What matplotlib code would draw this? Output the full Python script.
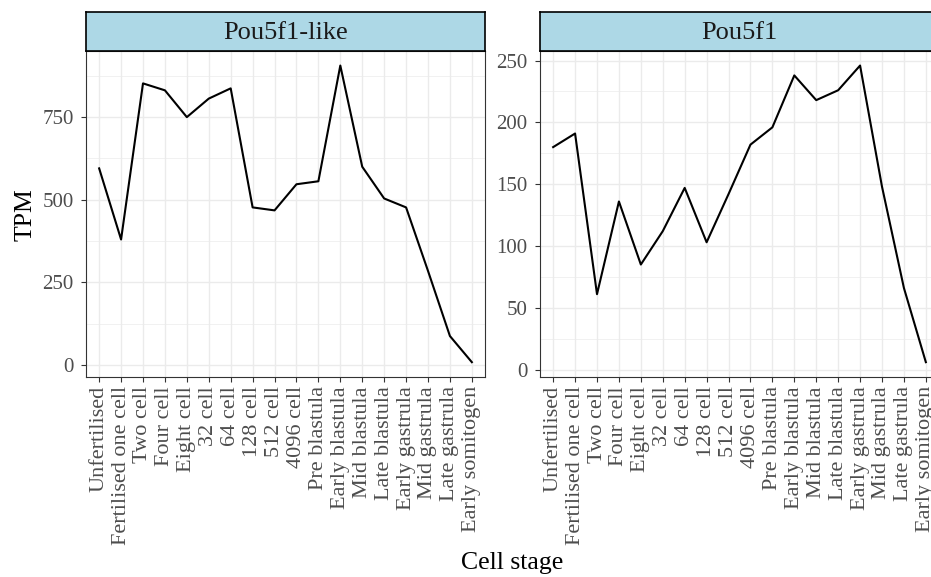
import matplotlib
matplotlib.use("Agg")
import matplotlib.pyplot as plt
from matplotlib.ticker import MultipleLocator

plt.rcParams['font.family'] = ['Liberation Serif', 'DejaVu Serif']

stages = ["Unfertilised", "Fertilised one cell", "Two cell", "Four cell", "Eight cell",
          "32 cell", "64 cell", "128 cell", "512 cell", "4096 cell", "Pre blastula",
          "Early blastula", "Mid blastula", "Late blastula", "Early gastrula",
          "Mid gastrula", "Late gastrula", "Early somitogen"]

pou5f1_like = [595, 380, 852, 831, 750, 806, 837, 477, 468, 547, 556,
               906, 600, 504, 477, 285, 88, 9]
pou5f1 = [180, 191, 61, 136, 85, 112, 147, 103, 142, 182, 196,
          238, 218, 226, 246, 148, 66, 6]

panels = [("Pou5f1-like", pou5f1_like, 250, 125), ("Pou5f1", pou5f1, 50, 25)]

W, H = 931, 577
fig = plt.figure(figsize=(W / 100, H / 100), dpi=100)

# panel positions in pixels: left edge, width, top, bottom, strip top
lefts = [86, 540]
pw = 399
ptop, pbot, stop = 50.7, 377, 12

for left, (name, vals, major, minor) in zip(lefts, panels):
    ax = fig.add_axes([left / W, (H - pbot) / H, pw / W, (pbot - ptop) / H])
    x = list(range(len(stages)))
    ax.plot(x, vals, color="black", lw=1.5, zorder=3)

    lo, hi = min(vals), max(vals)
    pad = (hi - lo) * 0.05
    ax.set_ylim(lo - pad, hi + pad)
    ax.set_xlim(-0.6, len(stages) - 1 + 0.6)
    ax.yaxis.set_major_locator(MultipleLocator(major))
    ax.yaxis.set_minor_locator(MultipleLocator(minor))
    ax.set_xticks(x)
    ax.set_xticklabels(stages, rotation=90, fontsize=16)
    ax.tick_params(axis="y", which="major", labelsize=15, colors="#333333",
                   length=3.5, width=0.8, pad=5.5)
    ax.tick_params(axis="x", which="major", colors="#333333",
                   length=3.5, width=0.8, pad=3)
    ax.tick_params(which="minor", length=0)
    for lab in ax.get_xticklabels() + ax.get_yticklabels():
        lab.set_color("#4d4d4d")

    ax.grid(which="major", color="#EBEBEB", lw=1.0, zorder=0)
    ax.grid(which="minor", axis="y", color="#EBEBEB", lw=0.5, zorder=0)
    ax.set_axisbelow(True)
    for sp in ax.spines.values():
        sp.set_color("#333333")
        sp.set_linewidth(0.8)

    # facet strip
    sx = fig.add_axes([left / W, (H - ptop) / H, pw / W, (ptop - stop) / H])
    sx.set_facecolor("#ADD8E6")
    sx.set_xticks([])
    sx.set_yticks([])
    for sp in sx.spines.values():
        sp.set_color("black")
        sp.set_linewidth(1.2)
    sx.text(0.5, 0.47, name, ha="center", va="center", fontsize=19,
            color="#1a1a1a", transform=sx.transAxes)

fig.text(26 / W, 1 - 215 / H, "TPM", rotation=90, ha="center", va="center",
         fontsize=18.5)
fig.text(512 / W, 1 - 563 / H, "Cell stage", ha="center", va="center",
         fontsize=18.5)

fig.savefig("out.png", dpi=100)
